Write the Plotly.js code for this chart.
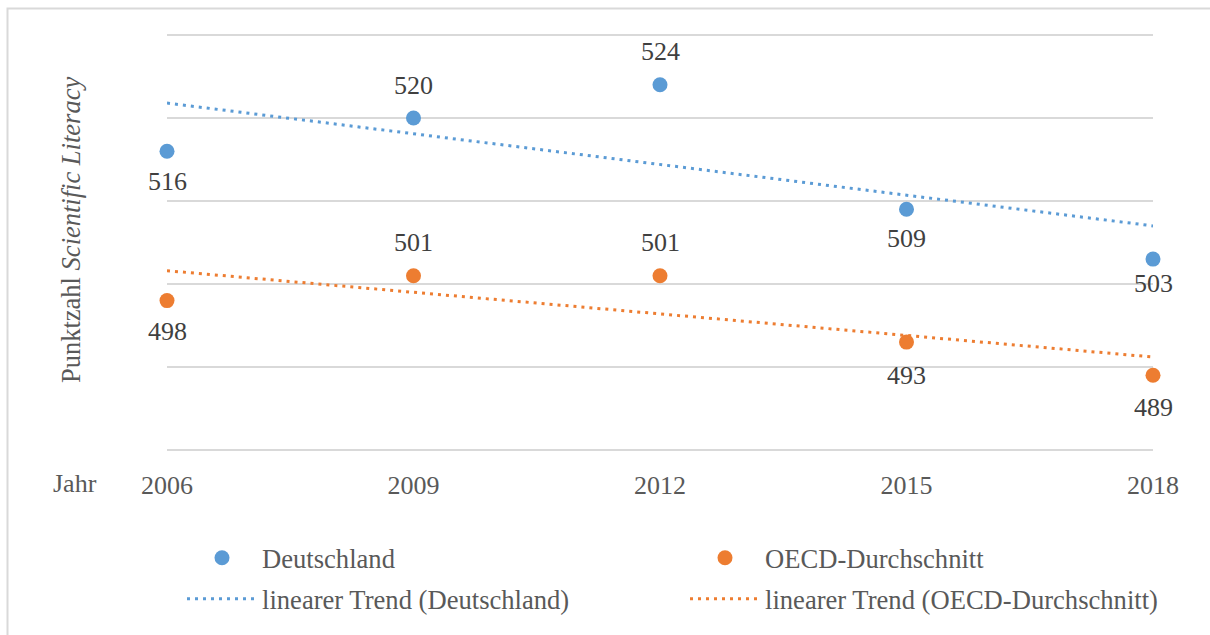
<!DOCTYPE html>
<html><head><meta charset="utf-8">
<script src="https://cdn.plot.ly/plotly-3.0.1.min.js"></script>
<style>html,body{margin:0;padding:0;background:#fff}#chart{width:1210px;height:635px}</style>
</head><body><div id="chart"></div><script>
// ---- data ----
const years = [2006, 2009, 2012, 2015, 2018];
const tickLabels = ['2006', '2009', '2012', '2015', '2018'];
const deutschland = [516, 520, 524, 509, 503];
const oecd = [498, 501, 501, 493, 489];
const seriesNames = ['Deutschland', 'OECD-Durchschnitt'];
const trendNames = ['linearer Trend (Deutschland)', 'linearer Trend (OECD-Durchschnitt)'];
const yTitle = 'Punktzahl <i>Scientific Literacy</i>';
const xTitle = 'Jahr';

// ---- styles ----
const blue = '#5b9bd5', orange = '#ed7d31';
const FONT = 'Liberation Serif';
// label offsets in pixels (positive = below the point)
const labelShiftD = [30, -33, -33, 29, 24];
const labelShiftO = [31, -33, -33, 33, 32];

// plot area geometry (pixels)
const L = 167, R = 1153, T = 33, B = 452;
const W = R - L, H = B - T;
const px2x = p => (p - L) / W;
const px2y = p => (B - p) / H;

function linfit(x, y) {
  const n = x.length;
  const mx = x.reduce((a, b) => a + b, 0) / n;
  const my = y.reduce((a, b) => a + b, 0) / n;
  let sxy = 0, sxx = 0;
  for (let i = 0; i < n; i++) { sxy += (x[i] - mx) * (y[i] - my); sxx += (x[i] - mx) ** 2; }
  const b = sxy / sxx, a = my - b * mx;
  return x.map(v => a + b * v);
}

const trendD = linfit(years, deutschland);
const trendO = linfit(years, oecd);

const traces = [
  {x: years, y: deutschland, name: seriesNames[0], type: 'scatter', mode: 'markers',
   marker: {color: blue, size: 15}, cliponaxis: false, legend: 'legend'},
  {x: years, y: oecd, name: seriesNames[1], type: 'scatter', mode: 'markers',
   marker: {color: orange, size: 15}, cliponaxis: false, legend: 'legend2'},
  {x: years, y: trendD, name: trendNames[0], type: 'scatter', mode: 'lines',
   line: {color: blue, width: 3, dash: '3px,5px'}, cliponaxis: false, legend: 'legend3'},
  {x: years, y: trendO, name: trendNames[1], type: 'scatter', mode: 'lines',
   line: {color: orange, width: 3, dash: '3px,5px'}, cliponaxis: false, legend: 'legend4'}
];

const annotations = [];
years.forEach((yr, i) => {
  annotations.push({x: yr, y: deutschland[i], text: String(deutschland[i]), showarrow: false,
    yshift: -labelShiftD[i], font: {family: FONT, size: 26, color: '#404040'}});
  annotations.push({x: yr, y: oecd[i], text: String(oecd[i]), showarrow: false,
    yshift: -labelShiftO[i], font: {family: FONT, size: 26, color: '#404040'}});
});
annotations.push({xref: 'paper', yref: 'paper', x: px2x(71), y: px2y(230),
  text: yTitle, textangle: -90, showarrow: false, xanchor: 'center', yanchor: 'middle',
  font: {family: FONT, size: 26.5, color: '#595959'}});
annotations.push({xref: 'paper', yref: 'paper', x: px2x(74.5), y: px2y(483),
  text: xTitle, showarrow: false, xanchor: 'center', yanchor: 'middle',
  font: {family: FONT, size: 26, color: '#595959'}});

function leg(xpx, ypx) {
  return {x: px2x(xpx), y: px2y(ypx), xanchor: 'left', yanchor: 'middle',
    itemwidth: 70, bgcolor: 'rgba(0,0,0,0)', borderwidth: 0,
    font: {family: FONT, size: 26.6, color: '#595959'}};
}

const layout = {
  width: 1210, height: 635,
  margin: {l: L, r: 1210 - R, t: T, b: 635 - B},
  paper_bgcolor: '#ffffff', plot_bgcolor: '#ffffff',
  font: {family: FONT, size: 26, color: '#595959'},
  showlegend: true,
  legend: leg(182, 558),
  legend2: leg(685, 558),
  legend3: leg(182, 599),
  legend4: leg(685, 599),
  xaxis: {range: [2006, 2018], tickvals: years, ticktext: tickLabels, showgrid: false,
    zeroline: false, showline: false, ticks: 'outside', ticklen: 10, tickcolor: 'rgba(0,0,0,0)',
    tickfont: {family: FONT, size: 26, color: '#595959'}, fixedrange: true},
  yaxis: {range: [480 - 2 * 50 / 415, 530 + 2 * 50 / 415], dtick: 10, tick0: 480,
    showticklabels: false, showgrid: true,
    gridcolor: '#d9d9d9', gridwidth: 2, zeroline: false, showline: false, ticks: '', fixedrange: true},
  annotations: annotations,
  shapes: [{type: 'rect', xref: 'paper', yref: 'paper', layer: 'below',
    x0: px2x(7.5), x1: 1.2, y0: -0.6, y1: px2y(8.5),
    line: {color: '#d9d9d9', width: 2}, fillcolor: 'rgba(0,0,0,0)'}],
  hovermode: false
};

Plotly.newPlot('chart', traces, layout, {displayModeBar: false, staticPlot: true});
</script></body></html>
